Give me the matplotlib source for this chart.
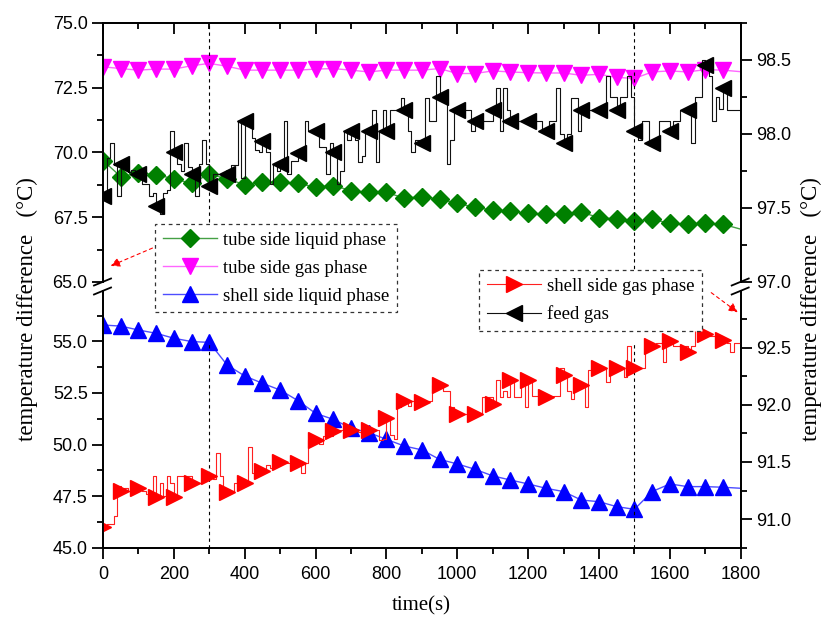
import matplotlib
matplotlib.use("Agg")
import matplotlib.pyplot as plt
from matplotlib.lines import Line2D
from matplotlib.ticker import MultipleLocator, FormatStrFormatter
import numpy as np

# ── data ────────────────────────────────────────────────────────────
# marker series sampled every 50 s
t_50 = np.arange(0, 1801, 50)
# logged traces sampled every 10 s
t_10 = np.arange(0, 1801, 10)

tube_liquid = [69.69, 69.07, 69.20, 69.15, 68.98, 68.81, 69.17, 68.98, 68.76, 68.85,
               68.85, 68.81, 68.66, 68.72, 68.53, 68.46, 68.46, 68.24, 68.29, 68.20,
               68.04, 67.88, 67.78, 67.73, 67.65, 67.62, 67.62, 67.69, 67.49, 67.43,
               67.34, 67.43, 67.26, 67.23, 67.26, 67.23, 67.04]

tube_gas = [73.31, 73.24, 73.18, 73.22, 73.22, 73.35, 73.44, 73.33, 73.18, 73.18,
            73.18, 73.18, 73.22, 73.24, 73.18, 73.11, 73.18, 73.18, 73.18, 73.24,
            73.05, 73.05, 73.15, 73.11, 73.08, 73.07, 73.07, 72.98, 73.02, 72.90,
            72.86, 73.11, 73.15, 73.11, 73.20, 73.18, 73.12]

shell_liquid = [55.79, 55.74, 55.55, 55.39, 55.15, 54.99, 54.95, 53.86, 53.32, 52.97,
                52.64, 52.13, 51.51, 51.22, 50.79, 50.58, 50.25, 49.93, 49.74, 49.28,
                49.06, 48.80, 48.48, 48.28, 48.09, 47.88, 47.72, 47.31, 47.23, 46.99,
                46.86, 47.72, 48.09, 47.96, 47.96, 47.93, 47.88]

shell_gas = [90.93, 90.96, 90.96, 91.03, 91.29, 91.25, 91.27, 91.25, 91.28, 91.25,
             91.27, 91.25, 91.22, 91.25, 91.38, 91.19, 91.32, 91.20, 91.38, 91.32,
             91.19, 91.38, 91.38, 91.38, 91.38, 91.32, 91.32, 91.32, 91.38, 91.35,
             91.38, 91.35, 91.58, 91.38, 91.25, 91.24, 91.25, 91.32, 91.32, 91.35,
             91.32, 91.63, 91.40, 91.41, 91.41, 91.42, 91.47, 91.45, 91.47, 91.47,
             91.50, 91.49, 91.49, 91.49, 91.49, 91.49, 91.40, 91.49, 91.69, 91.69,
             91.69, 91.66, 91.73, 91.75, 91.73, 91.77, 91.78, 91.78, 91.75, 91.78,
             91.78, 91.78, 91.76, 91.78, 91.78, 91.78, 91.78, 91.78, 91.69, 91.70,
             91.88, 91.74, 91.70, 91.98, 92.03, 92.03, 91.99, 92.03, 92.03, 92.03,
             92.02, 92.03, 92.03, 92.17, 92.17, 92.17, 92.12, 92.12, 91.98, 91.92,
             91.92, 91.92, 91.92, 91.92, 91.92, 91.92, 91.92, 92.07, 92.07, 92.07,
             92.01, 92.22, 92.07, 92.12, 92.07, 92.22, 92.07, 92.07, 92.22, 91.98,
             92.22, 92.08, 92.08, 92.08, 92.08, 92.07, 92.07, 92.08, 92.08, 92.32,
             92.26, 92.12, 92.05, 92.20, 92.17, 92.17, 91.98, 92.30, 92.28, 92.30,
             92.32, 92.32, 92.20, 92.32, 92.30, 92.32, 92.32, 92.24, 92.51, 92.32,
             92.32, 92.32, 92.32, 92.54, 92.54, 92.51, 92.54, 92.54, 92.37, 92.54,
             92.56, 92.51, 92.51, 92.51, 92.51, 92.46, 92.51, 92.65, 92.65, 92.65,
             92.62, 92.60, 92.60, 92.60, 92.60, 92.57, 92.54, 92.46, 92.54, 92.54,
             92.54]

feed_gas = [97.58, 97.84, 97.94, 97.79, 97.58, 97.80, 97.78, 97.74, 97.76, 97.73,
            97.73, 97.66, 97.66, 97.58, 97.60, 97.515, 97.46, 97.60, 97.62, 98.02,
            97.88, 97.80, 97.75, 97.94, 97.78, 97.73, 97.58, 97.80, 97.96, 97.80,
            97.65, 97.73, 97.73, 97.73, 97.73, 97.73, 97.79, 97.79, 98.09, 97.70,
            98.09, 98.09, 97.97, 97.89, 97.88, 97.95, 97.88, 97.66, 97.80, 97.75,
            97.80, 98.09, 97.73, 97.82, 97.82, 97.87, 97.90, 98.09, 98.02, 98.02,
            98.02, 97.91, 97.91, 97.73, 97.94, 97.88, 97.66, 97.75, 98.02, 97.96,
            98.02, 97.96, 97.81, 97.85, 98.02, 98.02, 98.16, 97.81, 98.02, 98.16,
            98.02, 98.16, 98.16, 98.16, 98.24, 98.16, 98.02, 97.88, 97.96, 97.96,
            97.94, 98.24, 98.09, 98.09, 98.39, 98.25, 98.24, 97.80, 97.96, 98.16,
            98.16, 98.16, 98.16, 98.16, 98.02, 98.09, 98.09, 98.09, 98.09, 98.09,
            98.16, 98.31, 98.02, 98.31, 98.16, 98.09, 98.09, 98.09, 98.09, 98.09,
            98.09, 98.09, 98.09, 98.09, 98.02, 98.02, 98.09, 98.09, 98.31, 98.00,
            97.94, 98.00, 98.24, 98.24, 98.02, 98.16, 98.16, 98.16, 98.16, 98.16,
            98.16, 98.16, 98.39, 98.25, 98.25, 98.16, 98.25, 98.25, 98.39, 98.25,
            98.02, 97.96, 98.09, 98.09, 97.96, 97.94, 97.96, 98.09, 98.09, 98.09,
            98.02, 98.09, 98.09, 98.16, 98.16, 98.16, 97.94, 98.25, 98.25, 98.50,
            98.465, 98.39, 98.09, 98.25, 98.17, 98.31, 98.16, 98.16, 98.16, 98.16,
            98.16]

LABELS = ["tube side liquid phase", "tube side gas phase", "shell side liquid phase",
          "shell side gas phase", "feed gas"]
STAGE_TIMES = [300, 1500]

plt.rcParams["font.family"] = ["Liberation Sans", "DejaVu Sans"]
SERIF = ["Liberation Serif", "DejaVu Serif"]

W, H = 823, 620
fig = plt.figure(figsize=(W / 100, H / 100), dpi=100)


def px(x, y):
    """pixel position (from top-left) -> figure fraction"""
    return x / W, 1 - y / H


x0, x1 = 103, 740.7
ax_u = fig.add_axes([x0 / W, 1 - 282 / H, (x1 - x0) / W, (282 - 23) / H])
ax_l = fig.add_axes([x0 / W, 1 - 547.7 / H, (x1 - x0) / W, (547.7 - 291) / H])
ax_ur = ax_u.twinx()
ax_lr = ax_l.twinx()

# ── curves ──────────────────────────────────────────────────────────
mk50 = slice(0, len(t_50) - 1)
mk10 = slice(0, len(t_10) - 1, 5)

l_tl, = ax_u.plot(t_50, tube_liquid, color="#45a045", lw=1.0, marker="D", ms=9,
                  mfc="#008000", mec="#008000", markevery=mk50, label=LABELS[0])
l_tg, = ax_u.plot(t_50, tube_gas, color="#ff66ff", lw=1.0, marker="v", ms=12,
                  mfc="#ff00ff", mec="#ff00ff", markevery=mk50, label=LABELS[1])
l_sl, = ax_l.plot(t_50, shell_liquid, color="#4d4dff", lw=1.0, marker="^", ms=12,
                  mfc="#0000ff", mec="#0000ff", markevery=mk50, label=LABELS[2])
l_sg, = ax_lr.plot(t_10, shell_gas, color="#ff2020", lw=0.8, drawstyle="steps-post",
                   marker=">", ms=12, mfc="#ff0000", mec="#ff0000", markevery=mk10,
                   label=LABELS[3])
l_fg, = ax_ur.plot(t_10, feed_gas, color="#111111", lw=0.8, drawstyle="steps-post",
                   marker="<", ms=12, mfc="#000000", mec="#000000", markevery=mk10,
                   label=LABELS[4])

for t in STAGE_TIMES:
    ax_u.axvline(t, color="k", lw=0.8, ls=(0, (3, 3)))
    ax_l.vlines(t, 45, 54.9, color="k", lw=0.8, linestyles=(0, (3, 3)))

# ── axes ────────────────────────────────────────────────────────────
for ax in (ax_u, ax_l, ax_ur, ax_lr):
    ax.set_xlim(0, 1800)
    for sp in ax.spines.values():
        sp.set_linewidth(1.3)
    ax.yaxis.set_major_formatter(FormatStrFormatter("%.1f"))
    ax.tick_params(axis="y", which="major", direction="out", length=8, width=1.3,
                   labelsize=13, pad=3)
    ax.tick_params(axis="y", which="minor", direction="out", length=4.5, width=1.3)

ax_u.set_ylim(65, 75)
ax_ur.set_ylim(97, 98.75)
ax_l.set_ylim(45, 57.44)
ax_lr.set_ylim(90.75, 92.995)

for ax, major, minor in ((ax_u, 2.5, 1.25), (ax_l, 2.5, 1.25),
                         (ax_ur, 0.5, 0.25), (ax_lr, 0.5, 0.25)):
    ax.yaxis.set_major_locator(MultipleLocator(major))
    ax.yaxis.set_minor_locator(MultipleLocator(minor))

for ax in (ax_u, ax_ur):
    ax.spines["bottom"].set_visible(False)
for ax in (ax_l, ax_lr):
    ax.spines["top"].set_visible(False)

for ax in (ax_u, ax_l):
    ax.xaxis.set_major_locator(MultipleLocator(200))
    ax.xaxis.set_minor_locator(MultipleLocator(100))

ax_u.tick_params(axis="x", which="both", bottom=False, top=True, labelbottom=False,
                 direction="in", width=1.3)
ax_u.tick_params(axis="x", which="major", length=8)
ax_u.tick_params(axis="x", which="minor", length=4.5)
ax_l.tick_params(axis="x", which="both", bottom=True, top=False, direction="out",
                 width=1.3, labelsize=13)
ax_l.tick_params(axis="x", which="major", length=8, pad=5)
ax_l.tick_params(axis="x", which="minor", length=4.5)

# axis-break marks on both y spines
for xb in (x0, x1):
    for yb in (282, 291):
        fig.add_artist(Line2D([(xb - 9) / W, (xb + 8) / W],
                              [1 - (yb + 3.5) / H, 1 - (yb - 3.5) / H],
                              color="k", lw=1.3))

# ── labels ──────────────────────────────────────────────────────────
ylab = "temperature difference   (\u00b0C)"
fig.text(*px(27, 309), ylab, rotation=90, ha="center", va="center",
         family=SERIF, fontsize=16.5)
fig.text(*px(811, 309), ylab, rotation=90, ha="center", va="center",
         family=SERIF, fontsize=16.5)
fig.text(*px(421, 606), "time(s)", ha="center", va="center", family=SERIF,
         fontsize=15)

# ── legends ─────────────────────────────────────────────────────────
leg_kw = dict(loc="upper left", bbox_transform=fig.transFigure, borderaxespad=0,
              frameon=True, fancybox=False, framealpha=1, numpoints=1,
              prop={"family": SERIF, "size": 13.5}, handlelength=2.9,
              handletextpad=0.35, borderpad=0.4, labelspacing=0.58)
leg1 = fig.legend(handles=[l_tl, l_tg, l_sl], bbox_to_anchor=px(155, 224), **leg_kw)
leg2 = fig.legend(handles=[l_sg, l_fg], bbox_to_anchor=px(479, 270), **leg_kw)
for leg in (leg1, leg2):
    fr = leg.get_frame()
    fr.set_edgecolor("#333333")
    fr.set_linestyle((0, (3, 3)))
    fr.set_linewidth(0.9)

# arrows from each legend to the axis it reads against
arrow_kw = dict(arrowstyle="-|>", color="red", lw=0.8, ls=(0, (3, 3)),
                mutation_scale=14)
ax_lr.annotate("", xy=(108, H - 267), xytext=(155, H - 247),
               xycoords="figure pixels", textcoords="figure pixels",
               arrowprops=arrow_kw)
ax_lr.annotate("", xy=(740, H - 314), xytext=(709, H - 291),
               xycoords="figure pixels", textcoords="figure pixels",
               arrowprops=arrow_kw)

fig.savefig("out.png", dpi=100)
